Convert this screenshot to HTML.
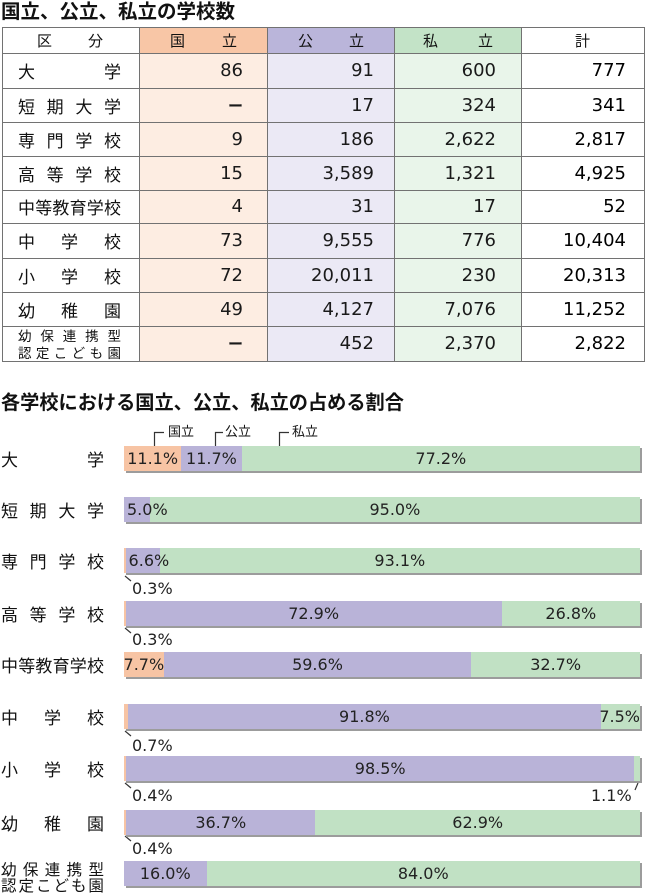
<!DOCTYPE html>
<html><head><meta charset="utf-8">
<style>
*{margin:0;padding:0;box-sizing:border-box}
body{width:646px;height:894px;background:#fff;position:relative;overflow:hidden;font-family:"Liberation Sans","Noto Sans CJK JP",sans-serif;color:#111}
.a{position:absolute}
.j{position:absolute;display:flex;justify-content:space-between;align-items:center}
.t{font-weight:bold;white-space:nowrap}
.bg{position:absolute}
.hl{position:absolute;left:2px;width:643px;height:1px;background:#727272}
.vl{position:absolute;top:27px;height:335px;width:1px;background:#727272}
.hd{font-size:15px;height:26px;top:27px}
.lb{font-size:17px;left:18px;width:103px}
.n{position:absolute;font-family:"DejaVu Sans",sans-serif;font-size:18px;text-align:right;display:flex;align-items:center;justify-content:flex-end;color:#1a1a1a;white-space:nowrap}
.dash{font-family:"Noto Sans CJK JP",sans-serif;font-weight:bold;font-size:15px}
.bar{position:absolute;left:124px;width:516px;height:25px;display:flex;box-shadow:2px 2px 0 #9c9c9c}
.bar>div{position:relative;height:100%}
.o{background:#F7C4A4}.p{background:#B9B3D8}.g{background:#C1E1C4}
.c,.l,.r{position:absolute;top:0;line-height:25px;white-space:nowrap;font-family:"DejaVu Sans",sans-serif;font-size:16px;color:#222;z-index:2}
.c{left:50%;transform:translateX(-50%)}
.l{left:3px}
.r{right:0}
.cl{position:absolute;font-family:"DejaVu Sans",sans-serif;font-size:16px;color:#222;line-height:18px;white-space:nowrap}
.rl{font-size:17px;left:1px;width:103px;height:25px}
.lg{position:absolute;font-size:13px;line-height:16px;top:424px;white-space:nowrap}
</style></head><body>

<div class="a t" style="left:1px;top:0;font-size:19.5px;line-height:25px">国立、公立、私立の学校数</div>

<div class="bg" style="left:139px;top:27px;width:128px;height:26px;background:#F8C6A6"></div>
<div class="bg" style="left:267px;top:27px;width:127px;height:26px;background:#BAB5DA"></div>
<div class="bg" style="left:394px;top:27px;width:127px;height:26px;background:#C3E3C7"></div>
<div class="bg" style="left:139px;top:53px;width:128px;height:308px;background:#FDEDE2"></div>
<div class="bg" style="left:267px;top:53px;width:127px;height:308px;background:#EBE9F5"></div>
<div class="bg" style="left:394px;top:53px;width:127px;height:308px;background:#E9F5EA"></div>

<div class="hl" style="top:27px"></div>
<div class="hl" style="top:53px"></div>
<div class="hl" style="top:88px"></div>
<div class="hl" style="top:122px"></div>
<div class="hl" style="top:156px"></div>
<div class="hl" style="top:190px"></div>
<div class="hl" style="top:223px"></div>
<div class="hl" style="top:258px"></div>
<div class="hl" style="top:292px"></div>
<div class="hl" style="top:326px"></div>
<div class="hl" style="top:361px"></div>
<div class="vl" style="left:2px"></div>
<div class="vl" style="left:139px"></div>
<div class="vl" style="left:267px"></div>
<div class="vl" style="left:394px"></div>
<div class="vl" style="left:521px"></div>
<div class="vl" style="left:644px"></div>

<div class="j hd" style="left:37px;width:66px"><span>区</span><span>分</span></div>
<div class="j hd" style="left:170px;width:67px"><span>国</span><span>立</span></div>
<div class="j hd" style="left:298px;width:66px"><span>公</span><span>立</span></div>
<div class="j hd" style="left:423px;width:70px"><span>私</span><span>立</span></div>
<div class="j hd" style="left:521px;width:123px;justify-content:center"><span>計</span></div>

<div class="j lb" style="top:53px;height:35px"><span>大</span><span>学</span></div>
<div class="j lb" style="top:88px;height:34px"><span>短</span><span>期</span><span>大</span><span>学</span></div>
<div class="j lb" style="top:122px;height:34px"><span>専</span><span>門</span><span>学</span><span>校</span></div>
<div class="j lb" style="top:156px;height:34px"><span>高</span><span>等</span><span>学</span><span>校</span></div>
<div class="j lb" style="top:190px;height:33px"><span>中</span><span>等</span><span>教</span><span>育</span><span>学</span><span>校</span></div>
<div class="j lb" style="top:223px;height:35px"><span>中</span><span>学</span><span>校</span></div>
<div class="j lb" style="top:258px;height:34px"><span>小</span><span>学</span><span>校</span></div>
<div class="j lb" style="top:292px;height:34px"><span>幼</span><span>稚</span><span>園</span></div>
<div class="j" style="left:18px;width:103px;top:327px;height:16px;font-size:13.5px"><span>幼</span><span>保</span><span>連</span><span>携</span><span>型</span></div>
<div class="j" style="left:18px;width:103px;top:344px;height:16px;font-size:13.5px"><span>認</span><span>定</span><span>こ</span><span>ど</span><span>も</span><span>園</span></div>

<div class="n" style="left:139px;width:104px;top:53px;height:35px">86</div>
<div class="n" style="left:267px;width:107px;top:53px;height:35px">91</div>
<div class="n" style="left:394px;width:102px;top:53px;height:35px">600</div>
<div class="n" style="left:521px;width:105px;top:53px;height:35px;color:#000">777</div>

<div class="n" style="left:139px;width:104px;top:88px;height:34px"><span class="dash">ー</span></div>
<div class="n" style="left:267px;width:107px;top:88px;height:34px">17</div>
<div class="n" style="left:394px;width:102px;top:88px;height:34px">324</div>
<div class="n" style="left:521px;width:105px;top:88px;height:34px;color:#000">341</div>

<div class="n" style="left:139px;width:104px;top:122px;height:34px">9</div>
<div class="n" style="left:267px;width:107px;top:122px;height:34px">186</div>
<div class="n" style="left:394px;width:102px;top:122px;height:34px">2,622</div>
<div class="n" style="left:521px;width:105px;top:122px;height:34px;color:#000">2,817</div>

<div class="n" style="left:139px;width:104px;top:156px;height:34px">15</div>
<div class="n" style="left:267px;width:107px;top:156px;height:34px">3,589</div>
<div class="n" style="left:394px;width:102px;top:156px;height:34px">1,321</div>
<div class="n" style="left:521px;width:105px;top:156px;height:34px;color:#000">4,925</div>

<div class="n" style="left:139px;width:104px;top:190px;height:33px">4</div>
<div class="n" style="left:267px;width:107px;top:190px;height:33px">31</div>
<div class="n" style="left:394px;width:102px;top:190px;height:33px">17</div>
<div class="n" style="left:521px;width:105px;top:190px;height:33px;color:#000">52</div>

<div class="n" style="left:139px;width:104px;top:223px;height:35px">73</div>
<div class="n" style="left:267px;width:107px;top:223px;height:35px">9,555</div>
<div class="n" style="left:394px;width:102px;top:223px;height:35px">776</div>
<div class="n" style="left:521px;width:105px;top:223px;height:35px;color:#000">10,404</div>

<div class="n" style="left:139px;width:104px;top:258px;height:34px">72</div>
<div class="n" style="left:267px;width:107px;top:258px;height:34px">20,011</div>
<div class="n" style="left:394px;width:102px;top:258px;height:34px">230</div>
<div class="n" style="left:521px;width:105px;top:258px;height:34px;color:#000">20,313</div>

<div class="n" style="left:139px;width:104px;top:292px;height:34px">49</div>
<div class="n" style="left:267px;width:107px;top:292px;height:34px">4,127</div>
<div class="n" style="left:394px;width:102px;top:292px;height:34px">7,076</div>
<div class="n" style="left:521px;width:105px;top:292px;height:34px;color:#000">11,252</div>

<div class="n" style="left:139px;width:104px;top:326px;height:35px"><span class="dash">ー</span></div>
<div class="n" style="left:267px;width:107px;top:326px;height:35px">452</div>
<div class="n" style="left:394px;width:102px;top:326px;height:35px">2,370</div>
<div class="n" style="left:521px;width:105px;top:326px;height:35px;color:#000">2,822</div>

<div class="a t" style="left:1px;top:391px;font-size:19.2px;line-height:25px">各学校における国立、公立、私立の占める割合</div>

<div class="lg" style="left:168px">国立</div>
<div class="lg" style="left:225px">公立</div>
<div class="lg" style="left:292px">私立</div>

<svg class="a" style="left:0;top:0" width="646" height="894">
<g stroke="#333" stroke-width="1.2" fill="none">
<polyline points="154.5,446 154.5,432.5 164,432.5"/>
<polyline points="215.5,446 215.5,432.5 223,432.5"/>
<polyline points="279.5,446 279.5,432.5 289,432.5"/>
<line x1="125" y1="576" x2="131" y2="581"/>
<line x1="125" y1="628" x2="131" y2="633"/>
<line x1="125" y1="731" x2="131" y2="736"/>
<line x1="125" y1="783" x2="131" y2="788"/>
<line x1="638" y1="783" x2="635" y2="790"/>
<line x1="125" y1="836" x2="131" y2="841"/>
</g>
</svg>

<div class="j rl" style="top:446px"><span>大</span><span>学</span></div>
<div class="j rl" style="top:497px"><span>短</span><span>期</span><span>大</span><span>学</span></div>
<div class="j rl" style="top:548px"><span>専</span><span>門</span><span>学</span><span>校</span></div>
<div class="j rl" style="top:601px"><span>高</span><span>等</span><span>学</span><span>校</span></div>
<div class="j rl" style="top:652px"><span>中</span><span>等</span><span>教</span><span>育</span><span>学</span><span>校</span></div>
<div class="j rl" style="top:704px"><span>中</span><span>学</span><span>校</span></div>
<div class="j rl" style="top:756px"><span>小</span><span>学</span><span>校</span></div>
<div class="j rl" style="top:810px"><span>幼</span><span>稚</span><span>園</span></div>
<div class="j" style="left:1px;width:103px;top:860px;height:17px;font-size:15.5px"><span>幼</span><span>保</span><span>連</span><span>携</span><span>型</span></div>
<div class="j" style="left:1px;width:103px;top:876px;height:17px;font-size:15.5px"><span>認</span><span>定</span><span>こ</span><span>ど</span><span>も</span><span>園</span></div>

<div class="bar" style="top:446px">
 <div class="o" style="width:11.1%"><span class="c">11.1%</span></div>
 <div class="p" style="width:11.7%"><span class="c">11.7%</span></div>
 <div class="g" style="flex:1"><span class="c">77.2%</span></div>
</div>
<div class="bar" style="top:497px">
 <div class="p" style="width:5.0%"><span class="l">5.0%</span></div>
 <div class="g" style="flex:1"><span class="c">95.0%</span></div>
</div>
<div class="bar" style="top:548px">
 <div class="o" style="width:0.3%"></div>
 <div class="p" style="width:6.6%"><span class="l">6.6%</span></div>
 <div class="g" style="flex:1"><span class="c">93.1%</span></div>
</div>
<div class="bar" style="top:601px">
 <div class="o" style="width:0.3%"></div>
 <div class="p" style="width:72.9%"><span class="c">72.9%</span></div>
 <div class="g" style="flex:1"><span class="c">26.8%</span></div>
</div>
<div class="bar" style="top:652px">
 <div class="o" style="width:7.7%"><span class="c">7.7%</span></div>
 <div class="p" style="width:59.6%"><span class="c">59.6%</span></div>
 <div class="g" style="flex:1"><span class="c">32.7%</span></div>
</div>
<div class="bar" style="top:704px">
 <div class="o" style="width:0.7%"></div>
 <div class="p" style="width:91.8%"><span class="c">91.8%</span></div>
 <div class="g" style="flex:1"><span class="r">7.5%</span></div>
</div>
<div class="bar" style="top:756px">
 <div class="o" style="width:0.4%"></div>
 <div class="p" style="width:98.5%"><span class="c">98.5%</span></div>
 <div class="g" style="flex:1"></div>
</div>
<div class="bar" style="top:810px">
 <div class="o" style="width:0.4%"></div>
 <div class="p" style="width:36.7%"><span class="c">36.7%</span></div>
 <div class="g" style="flex:1"><span class="c">62.9%</span></div>
</div>
<div class="bar" style="top:861px">
 <div class="p" style="width:16.0%"><span class="c">16.0%</span></div>
 <div class="g" style="flex:1"><span class="c">84.0%</span></div>
</div>

<div class="cl" style="left:132px;top:580px">0.3%</div>
<div class="cl" style="left:132px;top:631px">0.3%</div>
<div class="cl" style="left:132px;top:737px">0.7%</div>
<div class="cl" style="left:132px;top:787px">0.4%</div>
<div class="cl" style="left:591px;top:787px;width:40px;text-align:right">1.1%</div>
<div class="cl" style="left:132px;top:840px">0.4%</div>

</body></html>
